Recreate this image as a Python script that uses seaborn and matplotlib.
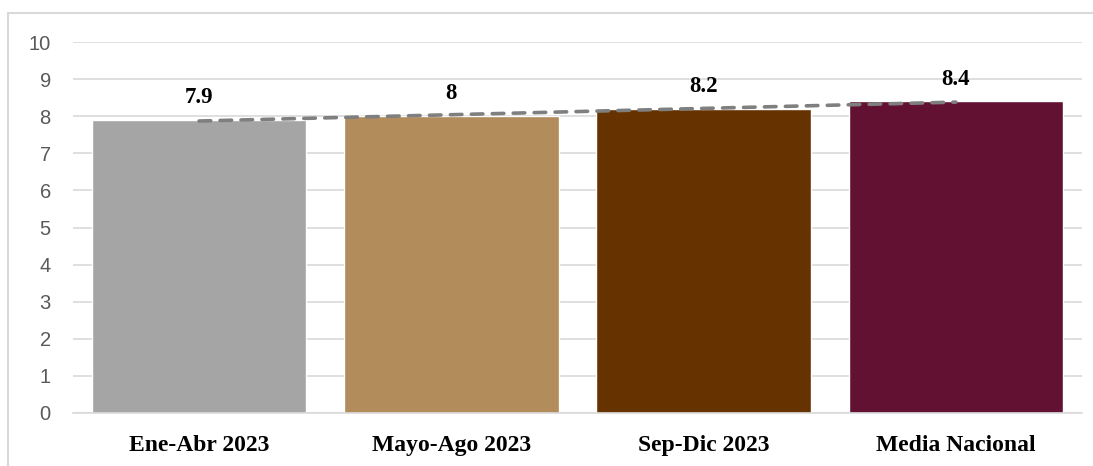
import pandas as pd
import seaborn as sns
import matplotlib.pyplot as plt
from matplotlib.lines import Line2D

# data
categories = ['Ene-Abr 2023', 'Mayo-Ago 2023', 'Sep-Dic 2023', 'Media Nacional']
values = [7.9, 8, 8.2, 8.4]
value_labels = ['7.9', '8', '8.2', '8.4']
bar_colors = ['#A5A5A5', '#B38C5B', '#663300', '#621132']

df = pd.DataFrame({'Periodo': categories, 'Valor': values})
df['pos'] = range(len(df))

sns.set_theme(style='white')
fig = plt.figure(figsize=(10.93, 4.66), dpi=100)
ax = fig.add_axes([73 / 1093, 1 - 413 / 466, (1082 - 73) / 1093, (413 - 42) / 466])

sns.barplot(data=df, x='Periodo', y='Valor', hue='Periodo', palette=bar_colors,
            width=0.85, saturation=1, legend=False, ax=ax, zorder=2)

# linear trend line (dashed, gray)
sns.regplot(data=df, x='pos', y='Valor', scatter=False, ci=None, truncate=True, ax=ax,
            line_kws={'color': '#7F7F7F', 'linestyle': (0, (3.2, 2.6)), 'linewidth': 2.6,
                      'zorder': 3, 'solid_capstyle': 'round', 'dash_capstyle': 'round'})

for i, (v, lab) in enumerate(zip(values, value_labels)):
    ax.text(i, v + 0.6, lab, ha='center', va='center', fontsize=16.5, fontweight='bold',
            family='Liberation Serif', color='black', zorder=4)

ax.set_xlim(-0.5, 3.5)
ax.set_ylim(0, 10)
ax.set_yticks(range(0, 11))
ax.yaxis.grid(True, color='#D9D9D9', linewidth=1.2, zorder=0)
ax.set_axisbelow(True)
for s in ['top', 'right', 'left']:
    ax.spines[s].set_visible(False)
ax.spines['bottom'].set_color('#D9D9D9')
ax.spines['bottom'].set_linewidth(1.2)
ax.tick_params(axis='both', length=0)
ax.tick_params(axis='y', labelsize=14.5, labelcolor='#595959', pad=16)
ax.tick_params(axis='x', pad=16)
for t in ax.get_xticklabels():
    t.set_family('Liberation Serif')
    t.set_fontweight('bold')
    t.set_fontsize(17)
    t.set_color('black')
for t in ax.get_yticklabels():
    t.set_family('Liberation Sans')
ax.set_xlabel('')
ax.set_ylabel('')

# chart area border (top and left visible)
x0, y0 = 8 / 1093, 1 - 13 / 466
fig.add_artist(Line2D([x0, 1], [y0, y0], transform=fig.transFigure, color='#D9D9D9', linewidth=1.5))
fig.add_artist(Line2D([x0, x0], [0, y0], transform=fig.transFigure, color='#D9D9D9', linewidth=1.5))

fig.savefig('out.png', dpi=100)
